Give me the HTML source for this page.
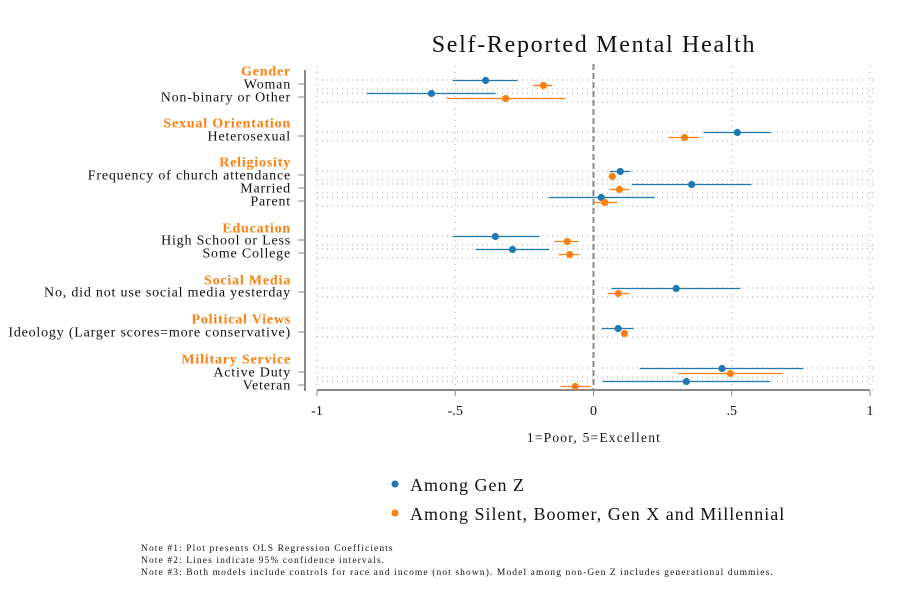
<!DOCTYPE html>
<html><head><meta charset="utf-8"><style>
html,body{margin:0;padding:0;background:#fff;}
svg{display:block;font-family:"Liberation Serif",serif;}
</style></head><body>
<svg id="chart" width="911" height="611" viewBox="0 0 911 611">
<rect width="911" height="611" fill="#fff"/>
<text x="594" y="52" font-size="24" letter-spacing="1.7" text-anchor="middle" fill="#111">Self-Reported Mental Health</text>
<g id="grid"></g>
<g id="axes"></g>
<g id="marks"></g>
<text x="594" y="442" font-size="13.5" letter-spacing="1.2" text-anchor="middle" fill="#111">1=Poor, 5=Excellent</text>
<g>
<circle cx="395" cy="484" r="3.5" fill="#1f77b4"/>
<text x="410" y="491" font-size="18" letter-spacing="1" fill="#111">Among Gen Z</text>
<circle cx="395" cy="513" r="3.5" fill="#ff7f0e"/>
<text x="410" y="520" font-size="18" letter-spacing="1" fill="#111">Among Silent, Boomer, Gen X and Millennial</text>
</g>
<g font-size="9.5" letter-spacing="1.1" fill="#111">
<text x="141" y="551">Note #1: Plot presents OLS Regression Coefficients</text>
<text x="141" y="563">Note #2: Lines indicate 95% confidence intervals.</text>
<text x="141" y="575">Note #3: Both models include controls for race and income (not shown). Model among non-Gen Z includes generational dummies.</text>
</g>
</svg>
<script>
const categories = ["Woman","Non-binary or Other","Heterosexual","Frequency of church attendance","Married","Parent","High School or Less","Some College","No, did not use social media yesterday","Ideology (Larger scores=more conservative)","Active Duty","Veteran"];
const rowY = [84,97,136,175,188,201,240,253,292,332,372,385];
const groups = ["Gender","Sexual Orientation","Religiosity","Education","Social Media","Political Views","Military Service"];
const groupY = [71,123,162,228,280,319,359];
const genzCoef = [-0.39,-0.586,0.52,0.097,0.355,0.028,-0.355,-0.293,0.299,0.089,0.465,0.336];
const genzLo = [-0.509,-0.82,0.398,0.058,0.138,-0.162,-0.509,-0.426,0.065,0.029,0.167,0.033];
const genzHi = [-0.274,-0.354,0.643,0.134,0.571,0.221,-0.195,-0.16,0.531,0.145,0.759,0.639];
const olderCoef = [-0.181,-0.318,0.329,0.068,0.094,0.041,-0.095,-0.086,0.09,0.112,0.495,-0.066];
const olderLo = [-0.219,-0.532,0.271,0.055,0.058,0.0,-0.141,-0.126,0.051,0.1,0.307,-0.119];
const olderHi = [-0.149,-0.101,0.383,0.08,0.13,0.087,-0.054,-0.05,0.129,0.125,0.683,-0.011];
const xTicks = [-1,-0.5,0,0.5,1];
const xTickLabels = ["-1","-.5","0",".5","1"];

const NS="http://www.w3.org/2000/svg";
const X0=317, X1=870;
function xs(v){return X0+(v+1)/2*(X1-X0);}
function mk(tag,attrs,parent){const e=document.createElementNS(NS,tag);for(const k in attrs)e.setAttribute(k,attrs[k]);parent.appendChild(e);return e;}
const grid=document.getElementById('grid'),axes=document.getElementById('axes'),marks=document.getElementById('marks');

rowY.forEach(function(y){
  [y-4,y+5].forEach(function(gy){
    const l=mk('line',{x1:X0,x2:X1+5,y1:gy,y2:gy,stroke:'#aaa','stroke-width':1,'stroke-dasharray':'1 4'},grid);
    
    
  });
});
xTicks.forEach(function(v){
  if(v===0)return;
  const l=mk('line',{x1:xs(v),x2:xs(v),y1:66,y2:388,stroke:'#aaa','stroke-width':1,'stroke-dasharray':'1 5'},grid);
  
  
});
const zl=mk('line',{x1:xs(0),x2:xs(0),y1:64,y2:390,stroke:'#888','stroke-width':2,'stroke-dasharray':'6 3'},grid);



const ya=mk('line',{x1:305,x2:305,y1:70,y2:391,stroke:'#888','stroke-width':2},axes);


categories.forEach(function(c,i){
  const t=mk('line',{x1:298,x2:305,y1:rowY[i],y2:rowY[i],stroke:'#888','stroke-width':1},axes);
  
  
  const tx=mk('text',{x:291,y:rowY[i]+4.5,'font-size':14,'letter-spacing':0.8,'text-anchor':'end',fill:'#111'},axes);
  tx.textContent=c;
  
  
});
groups.forEach(function(g,i){
  const tx=mk('text',{x:291,y:groupY[i]+4.5,'font-size':14,'letter-spacing':0.8,'font-weight':'bold','text-anchor':'end',fill:'#ff7f0e'},axes);
  tx.textContent=g;
  
  
});
const xa=mk('line',{x1:X0,x2:X1,y1:390,y2:390,stroke:'#888','stroke-width':2},axes);


xTicks.forEach(function(v,i){
  const t=mk('line',{x1:xs(v),x2:xs(v),y1:390,y2:396,stroke:'#888','stroke-width':1},axes);
  
  
  const tx=mk('text',{x:xs(v),y:415,'font-size':14,'text-anchor':'middle',fill:'#111'},axes);
  tx.textContent=xTickLabels[i];
  
  
});

function series(coef,lo,hi,off,color,name){
  coef.forEach(function(v,i){
    const y=rowY[i]+off;
    const l=mk('line',{x1:xs(lo[i]),x2:xs(hi[i]),y1:y,y2:y,stroke:color,'stroke-width':1.3},marks);
    
    
    const c=mk('circle',{cx:xs(v),cy:y,r:3.6,fill:color},marks);
    
    
  });
}
series(genzCoef,genzLo,genzHi,-3.5,'#1f77b4','genz');
series(olderCoef,olderLo,olderHi,1.5,'#ff7f0e','older');
</script>
</body></html>
